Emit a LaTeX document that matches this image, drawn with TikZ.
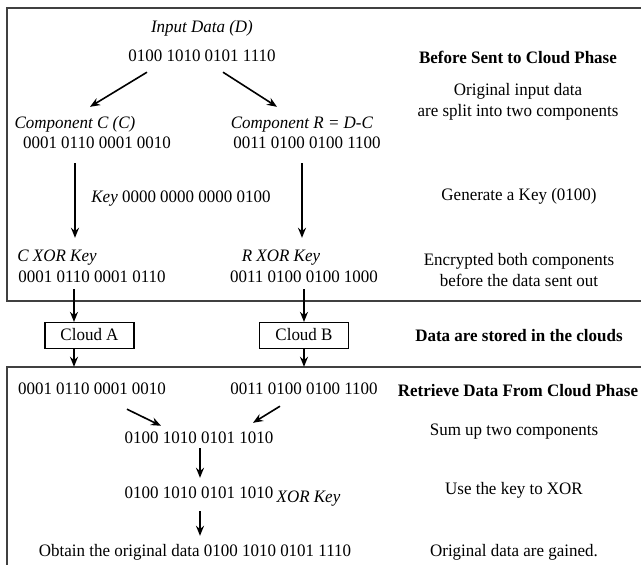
\documentclass[tikz,border=0pt]{standalone}
\usepackage{fontspec}
\setmainfont{Liberation Serif}[FakeStretch=0.97]
\usepackage{tikz}
\usetikzlibrary{arrows.meta}
\usetikzlibrary{positioning}

\tikzset{
    txt/.style={inner sep=0pt, text height=12.5pt, text depth=3.5pt},
    note/.style={inner sep=0pt, align=center},
    cloudbox/.style={draw, line width=1.2pt, minimum width=89pt, minimum height=26pt, inner sep=0pt, text height=12.5pt, text depth=3.5pt},
    phasebox/.style={draw=black!75, line width=1.8pt},
    arr/.style={-{Stealth[length=10pt,width=8pt]}, line width=1.6pt},
}

\begin{document}
\begin{tikzpicture}[x=1pt, y=-1pt, font=\fontsize{17.5}{21}\selectfont]
        \useasboundingbox (0,0) rectangle (641,565);

        % the two phase frames
        \draw[phasebox] (7,8) rectangle (660,301);
        \draw[phasebox] (7,367) rectangle (660,600);

        % before sent to cloud
        \node[txt] (indata) at (202,28) {\textit{Input Data (D)}};
        \node[txt] (dval) at (202,57) {0100 1010 0101 1110};
        \node[txt] (compc) at (75,124) {\textit{Component C (C)}};
        \node[txt] (cval) at (97,144) {0001 0110 0001 0010};
        \node[txt] (compr) at (302,124) {\textit{Component R = D-C}};
        \node[txt] (rval) at (307,144) {0011 0100 0100 1100};
        \node[txt] (key) at (181,198) {\textit{Key} 0000 0000 0000 0100};
        \node[txt] (cxor) at (57,257) {\textit{C XOR Key}};
        \node[txt] (cxval) at (92,278) {0001 0110 0001 0110};
        \node[txt] (rxor) at (281,257) {\textit{R XOR Key}};
        \node[txt] (rxval) at (304,278) {0011 0100 0100 1000};

        % the clouds
        \node[cloudbox] (cloudA) at (89.5,335.5) {Cloud A};
        \node[cloudbox] (cloudB) at (304,335.5) {Cloud B};

        % retrieve from cloud
        \node[txt] (bA) at (92,390) {0001 0110 0001 0010};
        \node[txt] (bB) at (304,390) {0011 0100 0100 1100};
        \node[txt] (sumv) at (199,439) {0100 1010 0101 1010};
        \node[txt] (xorv) at (199,494) {0100 1010 0101 1010};
        \node[txt, anchor=base west] (xorkey) at ([xshift=3pt,yshift=-4pt]xorv.base east) {\textit{XOR Key}};
        \node[txt] (obtain) at (195,552) {Obtain the original data 0100 1010 0101 1110};

        % right column notes
        \node[note] (phase1) at (518,57) {\textbf{Before Sent to Cloud Phase}};
        \node[note, below=20pt of phase1] (split) {Original input data\\are split into two components};
        \node[note] (genkey) at (519,196) {Generate a Key (0100)};
        \node[note] (encr) at (519,270) {Encrypted both components\\before the data sent out};
        \node[note] (stored) at (519,336) {\textbf{Data are stored in the clouds}};
        \node[note] (phase2) at (518,391) {\textbf{Retrieve Data From Cloud Phase}};
        \node[note] (sumup) at (514,432) {Sum up two components};
        \node[note] (usekey) at (514,490) {Use the key to XOR};
        \node[note] (gained) at (514,552) {Original data are gained.};

        \draw[arr] ([xshift=-55pt,yshift=-7pt]dval.south) -- ([xshift=15pt,yshift=9pt]compc.north);
        \draw[arr] ([xshift=21pt,yshift=-7pt]dval.south) -- ([xshift=-25pt,yshift=9pt]compr.north);
        \draw[arr] ([xshift=-22pt,yshift=-11pt]cval.south) -- ([xshift=18pt,yshift=11pt]cxor.north);
        \draw[arr] ([xshift=-5pt,yshift=-11pt]rval.south) -- ([xshift=21pt,yshift=11pt]rxor.north);
        \draw[arr] ([xshift=-18pt,yshift=-3pt]cxval.south) -- ([xshift=-15.5pt]cloudA.north);
        \draw[arr] ([yshift=-3pt]rxval.south) -- (cloudB.north);
        \draw[arr] ([xshift=-15.5pt]cloudA.south) -- ([xshift=-18pt,yshift=15pt]bA.north);
        \draw[arr] (cloudB.south) -- ([yshift=15pt]bB.north);
        \draw[arr] ([xshift=35pt,yshift=-11pt]bA.south) -- ([xshift=-38pt,yshift=5pt]sumv.north);
        \draw[arr] ([xshift=-24pt,yshift=-8pt]bB.south) -- ([xshift=54pt,yshift=8pt]sumv.north);
        \draw[arr] ([xshift=1pt,yshift=-1pt]sumv.south) -- ([xshift=1pt,yshift=8pt]xorv.north);
        \draw[arr] ([xshift=1pt,yshift=-9pt]xorv.south) -- ([xshift=5pt,yshift=8pt]obtain.north);
\end{tikzpicture}
\end{document}
